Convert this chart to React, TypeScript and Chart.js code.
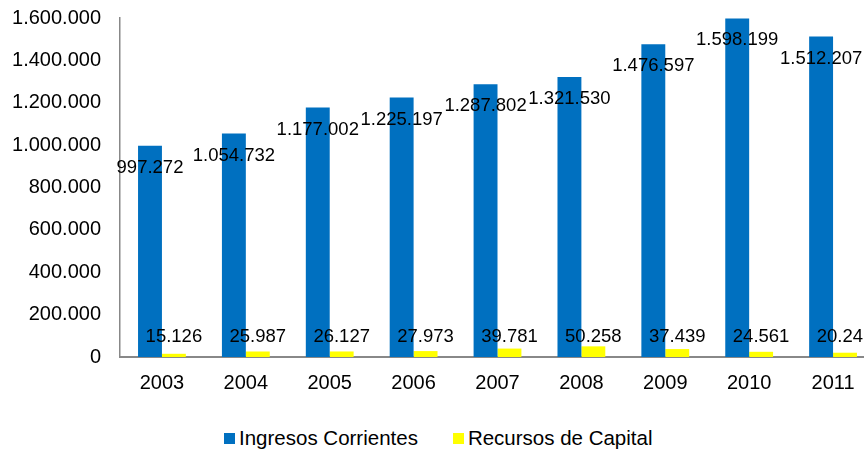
import React, { useEffect, useRef } from "react";
import { Chart, registerables } from "chart.js";

Chart.register(...registerables);

const years = ["2003", "2004", "2005", "2006", "2007", "2008", "2009", "2010", "2011"];
const ingresosCorrientes = [997272, 1054732, 1177002, 1225197, 1287802, 1321530, 1476597, 1598199, 1512207];
const recursosCapital = [15126, 25987, 26127, 27973, 39781, 50258, 37439, 24561, 20241];
const seriesNames = ["Ingresos Corrientes", "Recursos de Capital"];
const seriesColors = ["#0070C0", "#FFFF00"];

const FONT = '"Liberation Sans", Arial, sans-serif';

const fmt = (v: number) => String(Math.round(v)).replace(/\B(?=(\d{3})+(?!\d))/g, ".");

const labelPlugin = {
  id: "valueLabels",
  afterDatasetsDraw(chart: any) {
    const ctx = chart.ctx;
    ctx.save();
    ctx.font = `18.5px ${FONT}`;
    ctx.fillStyle = "#000";
    ctx.textAlign = "center";
    ctx.textBaseline = "middle";
    chart.data.datasets.forEach((ds: any, di: number) => {
      const meta = chart.getDatasetMeta(di);
      meta.data.forEach((bar: any, i: number) => {
        const v = ds.data[i];
        const y = di === 0 ? bar.y + 22 : chart.chartArea.bottom - 20;
        ctx.fillText(fmt(v), bar.x, y);
      });
    });
    ctx.restore();
  },
};

export default function App() {
  const ref = useRef<HTMLCanvasElement>(null);
  useEffect(() => {
    if (!ref.current) return;
    const chart = new Chart(ref.current, {
      type: "bar",
      data: {
        labels: years,
        datasets: [
          {
            label: seriesNames[0],
            data: ingresosCorrientes,
            backgroundColor: seriesColors[0],
            categoryPercentage: 0.57,
            barPercentage: 1,
          },
          {
            label: seriesNames[1],
            data: recursosCapital,
            backgroundColor: seriesColors[1],
            categoryPercentage: 0.57,
            barPercentage: 1,
          },
        ],
      },
      options: {
        responsive: false,
        animation: false,
        layout: { padding: { left: 12, right: 5, top: 18, bottom: 0 } },
        plugins: {
          legend: { display: false },
          tooltip: { enabled: false },
        },
        scales: {
          x: {
            grid: { display: false, drawTicks: false },
            border: { display: true, color: "#888888", width: 2 },
            ticks: { color: "#000", font: { family: FONT, size: 20 }, padding: 14 },
            afterFit: (s: any) => {
              s.height = 43;
            },
          },
          y: {
            min: 0,
            max: 1600000,
            grid: { display: false, drawTicks: false },
            border: { display: true, color: "#888888", width: 1.5 },
            ticks: {
              stepSize: 200000,
              color: "#000",
              font: { family: FONT, size: 20 },
              padding: 19,
              callback: (v: any) => fmt(Number(v)),
            },
            afterFit: (s: any) => {
              s.width = 108;
              s.paddingTop = 0;
              s.paddingBottom = 0;
            },
          },
        },
      },
      plugins: [labelPlugin],
    });
    return () => chart.destroy();
  }, []);

  const legendText: React.CSSProperties = {
    fontFamily: FONT,
    fontSize: 20.5,
    color: "#000",
    lineHeight: "24px",
  };

  return (
    <div
      style={{
        position: "fixed",
        left: 0,
        top: 0,
        width: 864,
        height: 452,
        overflow: "hidden",
        background: "#fff",
      }}
    >
      <canvas ref={ref} width={880} height={400} style={{ display: "block", width: 880, height: 400 }} />
      <div
        style={{
          position: "absolute",
          top: 426,
          left: 224,
          display: "flex",
          alignItems: "center",
          height: 24,
        }}
      >
        <span style={{ width: 11, height: 11, background: seriesColors[0], display: "inline-block" }} />
        <span style={{ ...legendText, marginLeft: 4 }}>{seriesNames[0]}</span>
        <span style={{ width: 11, height: 11, background: seriesColors[1], display: "inline-block", marginLeft: 35 }} />
        <span style={{ ...legendText, marginLeft: 4 }}>{seriesNames[1]}</span>
      </div>
    </div>
  );
}
